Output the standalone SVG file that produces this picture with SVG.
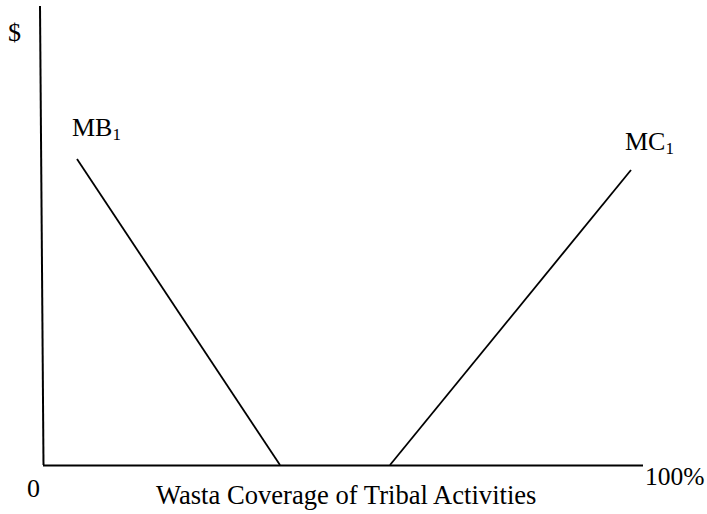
<svg xmlns="http://www.w3.org/2000/svg" width="707" height="514" viewBox="0 0 707 514">
<style>
.t{font-family:"Liberation Serif","Times New Roman",serif;font-size:26px;fill:#000}
.s{font-size:17px}
.ax{stroke:#000;stroke-width:2;fill:none}
.ln{stroke:#000;stroke-width:1.8;fill:none}
</style>
<rect width="707" height="514" fill="#fff"/>
<g id="connectors">
<line class="ax" x1="40" y1="6" x2="43.5" y2="465"/>
<line class="ax" x1="43" y1="465.5" x2="643" y2="465.5"/>
<line id="MB1-curve" class="ln" x1="77" y1="159" x2="280" y2="465"/>
<line id="MC1-curve" class="ln" x1="390" y1="465" x2="631" y2="170"/>
</g>
<g id="y-label"><text class="t" x="8" y="41">$</text></g>
<g id="origin"><text class="t" x="27" y="497">0</text></g>
<g id="x-max"><text class="t" x="645" y="485" style="font-size:25.5px">100%</text></g>
<g id="x-label"><text class="t" x="156" y="504" style="font-size:26.6px">Wasta Coverage of Tribal Activities</text></g>
<g id="MB1"><text class="t" x="72" y="136">MB<tspan class="s" dy="4">1</tspan></text></g>
<g id="MC1"><text class="t" x="625" y="150">MC<tspan class="s" dy="4">1</tspan></text></g>
</svg>
